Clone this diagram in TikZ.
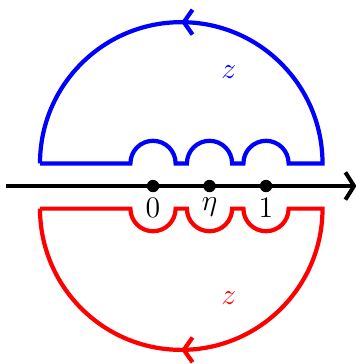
\documentclass[tikz,border=0pt]{standalone}
\usetikzlibrary{arrows.meta,decorations.markings}
\begin{document}
\begin{tikzpicture}[x=1.6cm,y=1.6cm,
  contour/.style={line width=1.7pt},
  midarrow/.style={postaction={decorate},decoration={markings,
     mark=at position 0.5 with {\arrow[line width=1.7pt]{Straight Barb[length=3.5pt,width=10pt]}}}},
  pt/.style={circle,fill=black,inner sep=0pt,minimum size=5pt},
  lbl/.style={font=\large}]
\useasboundingbox (-1.354,-1.575) rectangle (1.796,1.646);
% axis
\coordinate (L) at (-1.3,0);
\coordinate (R) at (1.8,0);
\draw[line width=1.4pt,-{Straight Barb[length=3.5pt,width=11pt,line width=1.6pt]}] (L) -- (R);
\node[pt] (p0) at (0,0) {};
\node[pt] (peta) at (0.5,0) {};
\node[pt] (p1) at (1,0) {};
\node[lbl,anchor=north] at (0,-0.03) {$0$};
\node[lbl,anchor=north] at (0.5,-0.03) {$\eta$};
\node[lbl,anchor=north] at (1,-0.03) {$1$};
% blue contour
\draw[contour,blue] (-1,0.2) -- (-0.2,0.2) arc (180:0:0.2) -- (0.3,0.2) arc (180:0:0.2)
   -- (0.8,0.2) arc (180:0:0.2) -- (1.5,0.2) arc (0:180:1.25) -- cycle;
\path[blue,midarrow] (1.5,0.2) arc (0:180:1.25);
\node[lbl,blue] at (0.67,1.01) {$z$};
% red contour
\draw[contour,red] (-1,-0.2) -- (-0.2,-0.2) arc (180:360:0.2) -- (0.3,-0.2) arc (180:360:0.2)
   -- (0.8,-0.2) arc (180:360:0.2) -- (1.5,-0.2) arc (0:-180:1.25) -- cycle;
\path[red,midarrow] (1.5,-0.2) arc (0:-180:1.25);
\node[lbl,red] at (0.67,-0.99) {$z$};
\end{tikzpicture}
\end{document}
